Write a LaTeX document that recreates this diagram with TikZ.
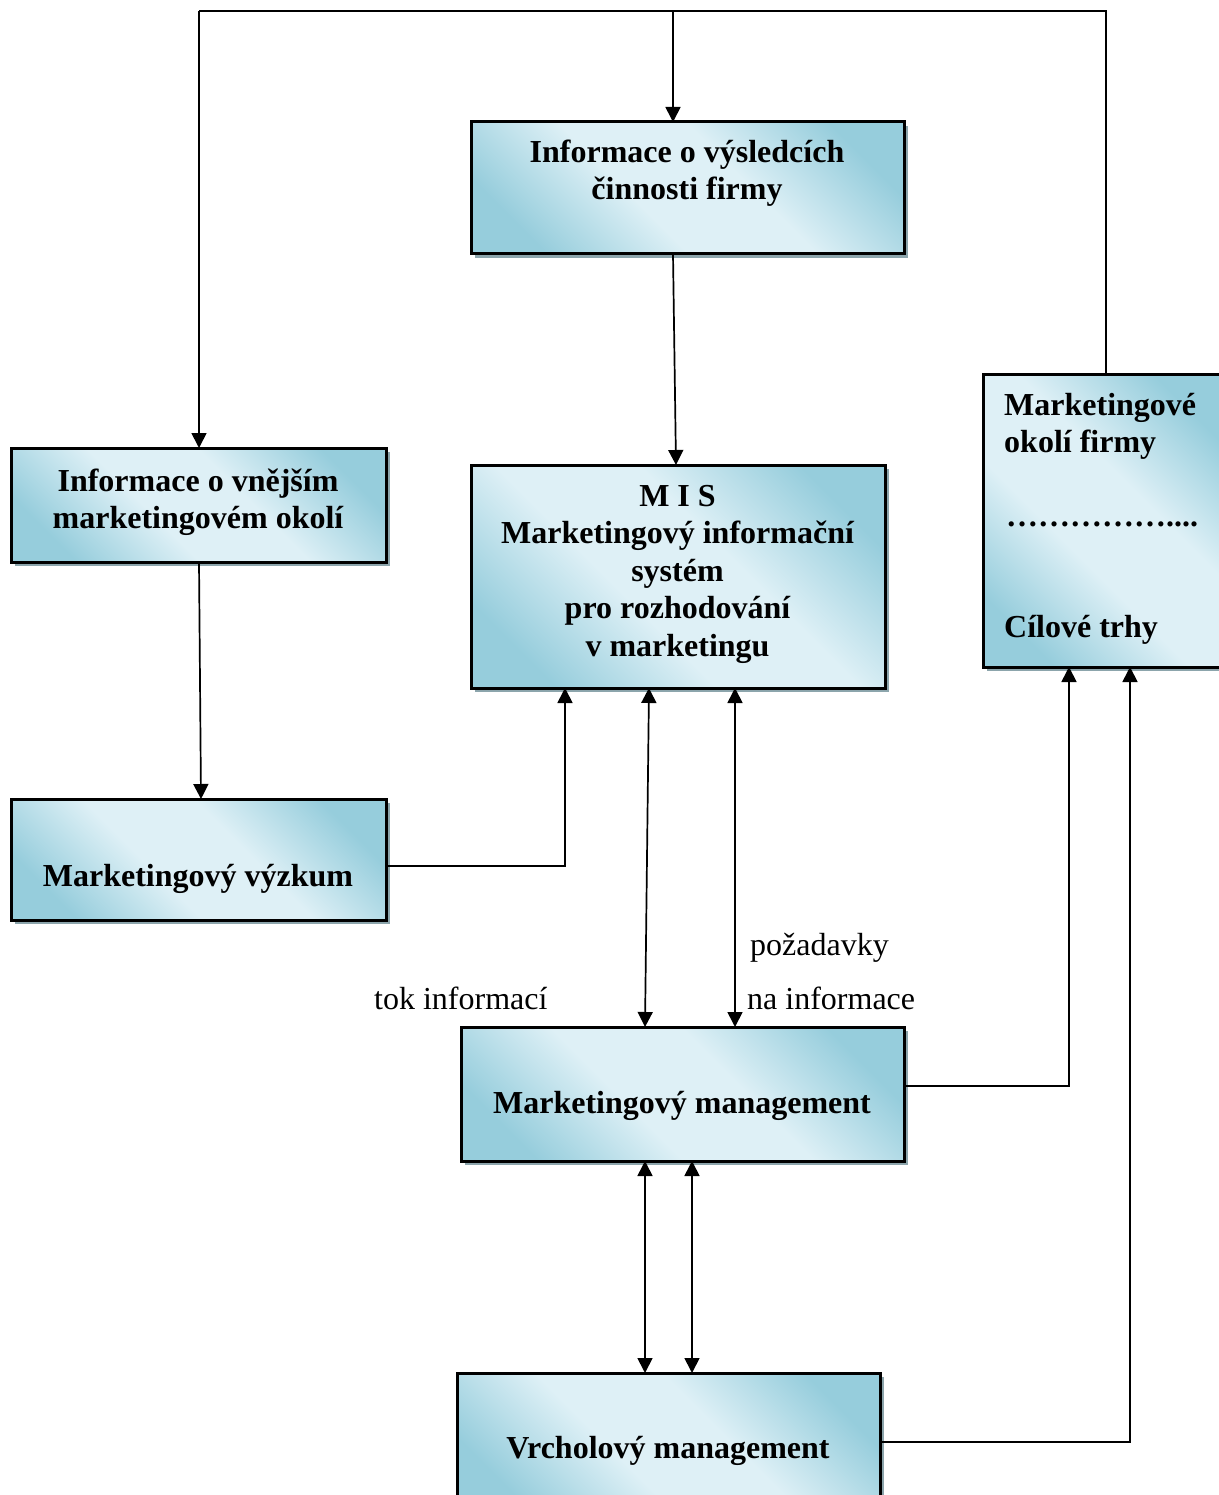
\documentclass[tikz,border=0pt]{standalone}
\usepackage{fontspec}
\setmainfont{Liberation Serif}
\usetikzlibrary{arrows.meta,shadows}
\definecolor{bdark}{RGB}{150,205,220}
\definecolor{blight}{RGB}{222,240,246}
\definecolor{shadowcol}{RGB}{140,165,172}
\pgfdeclarehorizontalshading{boxshade}{100bp}{color(0bp)=(bdark); color(24bp)=(bdark); color(42bp)=(blight); color(58bp)=(blight); color(76bp)=(bdark); color(100bp)=(bdark)}
\begin{document}
\begin{tikzpicture}[x=1pt,y=-1pt,
  box/.style={draw=black, line width=3pt, shade, shading=boxshade, shading angle=45,
    inner sep=0pt, outer sep=0pt,
    drop shadow={shadow xshift=4pt, shadow yshift=-4pt, fill=shadowcol, opacity=1}},
  bt/.style={font=\fontsize{32}{37}\selectfont\bfseries, anchor=base, inner sep=0pt},
  btl/.style={font=\fontsize{32}{37}\selectfont\bfseries, anchor=base west, inner sep=0pt},
  lt/.style={font=\fontsize{32}{37}\selectfont, anchor=base west, inner sep=0pt},
  con/.style={line width=1.7pt},
  arr/.style={con, -{Triangle[length=15pt,width=15pt]}},
  darr/.style={con, {Triangle[length=15pt,width=15pt]}-{Triangle[length=15pt,width=15pt]}}]

\useasboundingbox (0,0) rectangle (1218,1495);

% boxes
\node[box, minimum width=433pt, minimum height=132pt] (b1) at (687.5,188) {};
\node[box, minimum width=375pt, minimum height=114pt] (b2) at (198.5,505) {};
\node[box, minimum width=414pt, minimum height=223pt] (mis) at (678,576.5) {};
\node[box, minimum width=242pt, minimum height=293pt] (mo) at (1104,520.5) {};
\node[box, minimum width=375pt, minimum height=121pt] (vyz) at (198.5,859.5) {};
\node[box, minimum width=443pt, minimum height=134pt] (mm) at (682.5,1094) {};
\node[box, minimum width=423pt, minimum height=140pt] (vm) at (668.5,1443) {};

% texts
\node[bt] (t1a) at (687,163) {Informace o výsledcích};
\node[bt] (t1b) at (687,200) {činnosti firmy};
\node[bt] (t2a) at (198,491) {Informace o vnějším};
\node[bt] (t2b) at (198,528) {marketingovém okolí};
\node[bt] (m1) at (677.5,506) {M I S};
\node[bt] (m2) at (677.5,543) {Marketingový informační};
\node[bt] (m3) at (677.5,581) {systém};
\node[bt] (m4) at (677.5,618) {pro rozhodování};
\node[bt] (m5) at (677.5,656) {v marketingu};
\node[btl] (o1) at (1004,415) {Marketingové};
\node[btl] (o2) at (1004,452) {okolí firmy};
\node[btl] (o3) at (1006,526) {……………....};
\node[btl] (o4) at (1004,637) {Cílové trhy};
\node[bt] (tv) at (198,886) {Marketingový výzkum};
\node[bt] (tmm) at (682,1113) {Marketingový management};
\node[bt] (tvm) at (668,1458) {Vrcholový management};
\node[lt] (l1) at (374,1009) {tok informací};
\node[lt] (l2) at (750,955) {požadavky};
\node[lt] (l3) at (747,1009) {na informace};

% coordinates
\coordinate (tl) at (199,11);
\coordinate (tm) at (673,11);
\coordinate (tr) at (1106,11);
\coordinate (x676) at (676,0);
\coordinate (x201) at (201,0);
\coordinate (x649) at (649,0);
\coordinate (x645) at (645,0);
\coordinate (x735) at (735,0);
\coordinate (x692) at (692,0);
\coordinate (k1) at (565,866);
\coordinate (k2) at (1069,1086);
\coordinate (k3) at (1130,1442);

% connectors
\draw[con] (mo.north -| tr) -- (tr) -- (tl);
\draw[arr] (tl) -- (tl |- b2.north);
\draw[arr] (tm) -- (tm |- b1.north);
\draw[arr] (b1.south -| tm) -- (mis.north -| x676);
\draw[arr] (b2.south -| tl) -- (vyz.north -| x201);
\draw[arr] (vyz.east |- k1) -- (k1) -- (k1 |- mis.south);
\draw[darr] (mis.south -| x649) -- (mm.north -| x645);
\draw[darr] (mis.south -| x735) -- (mm.north -| x735);
\draw[arr] (mm.east |- k2) -- (k2) -- (k2 |- mo.south);
\draw[arr] (vm.east |- k3) -- (k3) -- (k3 |- mo.south);
\draw[darr] (mm.south -| x645) -- (vm.north -| x645);
\draw[darr] (mm.south -| x692) -- (vm.north -| x692);
\end{tikzpicture}
\end{document}
